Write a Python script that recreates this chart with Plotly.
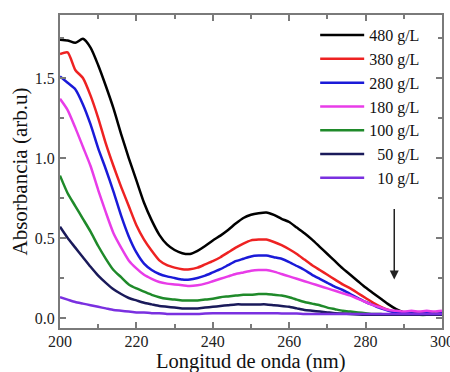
import plotly.graph_objects as go

wavelength = list(range(200, 301, 2))

a480 = [1.74, 1.735, 1.72, 1.745, 1.69, 1.58, 1.45, 1.31, 1.15, 1.00, 0.86, 0.72, 0.61, 0.52, 0.46, 0.425, 0.405, 0.40, 0.42, 0.45,
        0.485, 0.515, 0.55, 0.59, 0.625, 0.645, 0.655, 0.66, 0.645, 0.62, 0.60, 0.565, 0.53, 0.49, 0.445, 0.40, 0.355, 0.31, 0.27, 0.23,
        0.19, 0.155, 0.12, 0.085, 0.055, 0.035, 0.025, 0.025, 0.02, 0.025, 0.02]
a380 = [1.65, 1.66, 1.55, 1.50, 1.39, 1.25, 1.09, 0.95, 0.82, 0.70, 0.58, 0.49, 0.42, 0.36, 0.33, 0.315, 0.305, 0.305, 0.315, 0.335,
        0.355, 0.38, 0.41, 0.44, 0.465, 0.485, 0.49, 0.49, 0.475, 0.455, 0.43, 0.40, 0.365, 0.33, 0.30, 0.27, 0.24, 0.21, 0.185, 0.155,
        0.125, 0.095, 0.07, 0.05, 0.035, 0.03, 0.03, 0.025, 0.03, 0.025, 0.03]
a280 = [1.51, 1.47, 1.43, 1.335, 1.21, 1.06, 0.93, 0.79, 0.64, 0.51, 0.41, 0.34, 0.30, 0.275, 0.26, 0.25, 0.24, 0.24, 0.25, 0.265,
        0.285, 0.305, 0.33, 0.355, 0.37, 0.385, 0.39, 0.39, 0.38, 0.37, 0.35, 0.325, 0.30, 0.27, 0.245, 0.22, 0.195, 0.175, 0.15, 0.125,
        0.10, 0.08, 0.06, 0.045, 0.035, 0.03, 0.03, 0.025, 0.03, 0.025, 0.03]
a180 = [1.37, 1.30, 1.19, 1.07, 0.95, 0.80, 0.66, 0.53, 0.44, 0.36, 0.31, 0.27, 0.245, 0.225, 0.215, 0.21, 0.205, 0.20, 0.205, 0.215,
        0.23, 0.245, 0.26, 0.275, 0.285, 0.295, 0.30, 0.30, 0.29, 0.275, 0.26, 0.245, 0.23, 0.215, 0.20, 0.185, 0.17, 0.155, 0.14, 0.12,
        0.10, 0.08, 0.065, 0.05, 0.045, 0.04, 0.045, 0.04, 0.045, 0.04, 0.045]
a100 = [0.89, 0.78, 0.70, 0.62, 0.54, 0.45, 0.37, 0.30, 0.255, 0.21, 0.185, 0.165, 0.145, 0.13, 0.12, 0.115, 0.11, 0.11, 0.11, 0.115,
        0.12, 0.13, 0.135, 0.14, 0.145, 0.145, 0.15, 0.15, 0.145, 0.14, 0.13, 0.115, 0.10, 0.09, 0.08, 0.065, 0.055, 0.045, 0.04, 0.035,
        0.03, 0.025, 0.025, 0.02, 0.02, 0.02, 0.025, 0.02, 0.02, 0.025, 0.02]
a50 = [0.57, 0.50, 0.44, 0.38, 0.32, 0.265, 0.22, 0.18, 0.15, 0.125, 0.11, 0.095, 0.085, 0.075, 0.07, 0.065, 0.06, 0.06, 0.06, 0.065,
       0.07, 0.075, 0.08, 0.085, 0.085, 0.085, 0.085, 0.085, 0.08, 0.075, 0.07, 0.06, 0.05, 0.045, 0.04, 0.035, 0.03, 0.028, 0.025, 0.022,
       0.02, 0.02, 0.02, 0.02, 0.02, 0.02, 0.02, 0.02, 0.02, 0.02, 0.02]
a10 = [0.13, 0.115, 0.10, 0.09, 0.08, 0.07, 0.06, 0.05, 0.045, 0.04, 0.035, 0.035, 0.03, 0.03, 0.025, 0.025, 0.025, 0.025, 0.025, 0.028,
       0.03, 0.03, 0.03, 0.03, 0.03, 0.03, 0.03, 0.03, 0.03, 0.028, 0.028, 0.028, 0.025, 0.025, 0.025, 0.025, 0.025, 0.025, 0.025, 0.025,
       0.025, 0.025, 0.025, 0.025, 0.025, 0.025, 0.025, 0.025, 0.025, 0.025, 0.025]

series_names = ["480 g/L", "380 g/L", "280 g/L", "180 g/L", "100 g/L", "&nbsp;&nbsp;50 g/L", "&nbsp;&nbsp;10 g/L"]
series_values = [a480, a380, a280, a180, a100, a50, a10]
series_colors = ["#000000", "#ee2222", "#1a1ad8", "#e83ce8", "#1f8a2a", "#1a1a5a", "#7a30e0"]

x_title = "Longitud de onda (nm)"
y_title = "Absorbancia (arb.u)"

arrow_x = 287.5
arrow_from = 0.69
arrow_to = 0.24

SERIF = "Liberation Serif"

fig = go.Figure()
for name, vals, col in zip(series_names, series_values, series_colors):
    fig.add_trace(go.Scatter(x=wavelength, y=vals, mode="lines", name=name,
                             line=dict(color=col, width=2.5, shape="spline", smoothing=0.6)))

fig.add_annotation(x=arrow_x, y=arrow_to, ax=arrow_x, ay=arrow_from, xref="x", yref="y",
                   axref="x", ayref="y", showarrow=True, arrowhead=2, arrowsize=1.2,
                   arrowwidth=1.5, arrowcolor="#222222", text="")

# x-axis title placed just below the tick labels (as in the original figure)
fig.add_annotation(text=x_title, xref="paper", yref="paper", x=0.5, y=-0.1055,
                   xanchor="center", yanchor="middle", showarrow=False,
                   font=dict(family=SERIF, size=20.5, color="#111111"))

axis_common = dict(showline=True, linecolor="#7a7a7a", linewidth=2, mirror="ticks",
                   ticks="inside", tickcolor="#7a7a7a", tickwidth=2, ticklen=6,
                   showgrid=False, zeroline=False, ticklabeloverflow="allow", automargin=False,
                   tickfont=dict(family=SERIF, size=16, color="#222222"),
                   title_font=dict(family=SERIF, size=21, color="#111111"))

fig.update_xaxes(range=[200, 300], dtick=20, tick0=200, ticklabelstandoff=-2,
                 minor=dict(dtick=10, ticks="inside", ticklen=4, tickcolor="#7a7a7a", tickwidth=2),
                 **axis_common)
fig.update_yaxes(range=[-0.0625, 1.894], dtick=0.5, tick0=0, tickformat=".1f",
                 minor=dict(dtick=0.25, ticks="inside", ticklen=4, tickcolor="#7a7a7a", tickwidth=2),
                 title_text=y_title, title_standoff=1, **axis_common)

fig.update_layout(width=450, height=372, margin=dict(l=60, r=8, t=15, b=44),
                  plot_bgcolor="white", paper_bgcolor="white",
                  legend=dict(x=0.668, y=0.99, xanchor="left", yanchor="top",
                              bgcolor="rgba(0,0,0,0)", borderwidth=0,
                              font=dict(family=SERIF, size=16, color="#111111"),
                              tracegroupgap=0, itemwidth=44),
                  showlegend=True)

fig.write_html("out.html")
